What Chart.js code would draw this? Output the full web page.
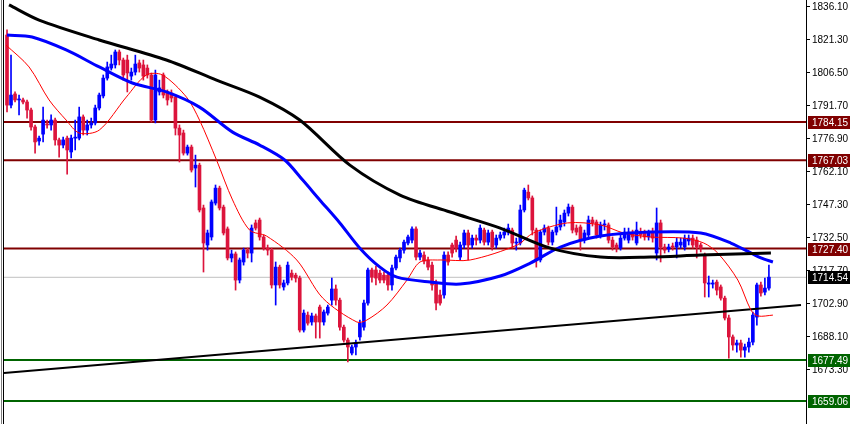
<!DOCTYPE html>
<html>
<head>
<meta charset="utf-8">
<script src="https://cdn.jsdelivr.net/npm/chart.js@4.4.0/dist/chart.umd.min.js"></script>
<style>
  html, body { margin: 0; padding: 0; background: #fff; }
  #wrap { width: 854px; height: 424px; position: relative; }
</style>
</head>
<body>
<div id="wrap"><canvas id="myChart"></canvas></div>
<script>
// candles (one per bar, left to right)
const opens = [1823.1,1791.7,1796.7,1794.0,1794.0,1793.1,1789.5,1781.9,1775.6,1778.7,1783.2,1782.8,1785.0,1776.1,1773.8,1776.9,1770.7,1776.9,1776.9,1786.4,
1780.5,1782.8,1783.7,1790.4,1795.8,1803.8,1808.3,1809.7,1815.5,1811.9,1811.9,1804.7,1806.5,1810.6,1809.7,1808.3,1805.2,1785.0,1797.6,1805.2,
1797.6,1797.1,1795.3,1781.4,1779.2,1770.2,1772.9,1763.5,1764.8,1745.6,1729.0,1732.6,1747.8,1754.5,1746.0,1736.2,1723.2,1725.0,1713.3,1721.4,
1726.7,1725.4,1738.9,1740.2,1732.6,1727.6,1726.7,1711.1,1719.1,1710.2,1712.0,1716.4,1715.5,1714.2,1690.9,1697.6,1694.5,1697.2,1701.2,1694.5,
1698.5,1704.3,1709.3,1704.3,1692.2,1686.4,1680.6,1683.3,1687.8,1692.2,1703.0,1717.8,1717.8,1716.4,1715.5,1715.5,1711.1,1718.7,1723.2,1726.7,
1729.9,1731.2,1736.2,1723.6,1724.5,1722.3,1720.0,1712.0,1706.6,1706.6,1724.5,1729.0,1731.2,1723.6,1729.0,1734.4,1729.0,1732.1,1731.2,1735.7,
1730.3,1734.8,1729.0,1732.1,1733.5,1734.8,1735.7,1729.9,1729.9,1744.7,1752.7,1750.1,1735.7,1722.3,1734.8,1736.6,1730.3,1734.8,1737.1,1739.3,
1743.3,1746.0,1736.6,1737.1,1731.2,1733.5,1740.2,1739.3,1733.5,1738.0,1738.0,1731.2,1729.0,1727.6,1732.1,1731.2,1734.8,1729.9,1734.8,1734.8,
1732.6,1734.8,1725.4,1738.9,1728.1,1727.2,1728.5,1728.1,1729.0,1728.1,1730.8,1732.1,1731.2,1729.0,1724.5,1711.5,1711.5,1712.4,1710.2,1705.2,
1696.3,1687.8,1684.2,1685.1,1681.9,1683.3,1685.5,1696.7,1711.1,1707.9,1709.7];
const closes = [1791.7,1796.2,1794.0,1794.0,1793.1,1789.5,1781.9,1775.2,1776.9,1785.0,1782.8,1785.0,1776.1,1773.8,1776.1,1771.6,1776.9,1776.9,1786.4,1780.5,
1782.8,1783.7,1790.4,1796.2,1803.8,1808.8,1810.1,1815.5,1811.9,1805.2,1806.1,1806.5,1810.1,1808.3,1804.7,1805.2,1785.0,1805.2,1799.4,1796.2,
1794.0,1794.9,1781.4,1778.3,1770.2,1772.9,1762.6,1764.8,1744.7,1729.9,1734.4,1748.3,1754.5,1745.6,1734.4,1723.2,1725.0,1713.3,1722.3,1726.7,
1725.4,1736.6,1736.6,1732.6,1727.6,1726.7,1711.1,1719.1,1711.1,1712.0,1720.0,1714.6,1714.2,1690.9,1698.5,1694.0,1697.2,1694.5,1694.5,1699.0,
1701.2,1709.3,1704.3,1692.2,1686.4,1683.3,1683.3,1685.1,1694.0,1703.0,1717.8,1714.6,1714.2,1713.3,1713.3,1711.1,1718.7,1723.6,1726.7,1730.3,
1732.6,1736.2,1723.6,1725.4,1721.8,1719.1,1711.1,1703.0,1703.0,1724.5,1721.4,1725.4,1727.6,1729.0,1734.4,1729.0,1732.1,1731.2,1736.6,1730.3,
1734.4,1728.1,1732.1,1733.5,1734.8,1736.6,1729.9,1730.2,1744.7,1753.6,1750.1,1735.7,1722.3,1734.8,1736.6,1730.3,1734.8,1737.1,1740.2,1743.3,
1746.0,1735.7,1734.8,1731.2,1734.4,1740.2,1738.9,1733.5,1738.0,1738.3,1731.2,1728.1,1727.6,1732.1,1734.8,1734.8,1732.6,1735.7,1733.5,1732.6,
1734.4,1732.1,1738.9,1728.1,1726.7,1728.1,1728.1,1730.3,1730.3,1732.1,1732.1,1729.0,1728.1,1727.6,1712.0,1712.0,1712.0,1708.8,1705.2,1696.3,
1687.8,1684.2,1685.1,1681.9,1683.3,1685.5,1697.6,1711.1,1707.5,1709.7,1714.6];
const highs = [1825.4,1814.1,1797.6,1796.2,1794.9,1794.0,1790.4,1782.8,1777.8,1790.8,1785.0,1787.3,1785.9,1776.9,1777.4,1777.8,1778.3,1785.0,1790.8,1787.3,
1785.0,1785.9,1791.7,1797.1,1805.2,1811.0,1814.1,1816.4,1816.4,1812.8,1814.1,1808.3,1814.1,1811.9,1811.9,1809.7,1806.1,1807.4,1802.9,1806.1,
1798.5,1798.5,1796.2,1782.8,1780.5,1773.8,1773.8,1769.3,1765.7,1746.9,1735.7,1749.2,1755.9,1755.4,1746.9,1737.1,1726.7,1725.9,1723.2,1727.6,
1727.6,1738.0,1740.2,1741.1,1733.5,1729.0,1727.6,1721.4,1720.0,1713.3,1721.4,1717.8,1716.4,1715.1,1699.9,1699.0,1698.5,1698.1,1702.1,1699.9,
1702.1,1714.2,1711.1,1705.2,1693.1,1687.3,1684.2,1686.4,1695.4,1704.3,1718.7,1718.7,1719.6,1717.8,1716.9,1716.9,1720.0,1724.5,1727.6,1731.2,
1733.5,1737.1,1737.1,1726.7,1725.9,1723.6,1721.4,1713.3,1708.8,1725.9,1725.9,1729.9,1733.0,1730.3,1735.7,1735.7,1733.5,1733.5,1738.0,1736.6,
1735.7,1735.7,1733.5,1734.8,1736.6,1738.4,1736.6,1732.1,1746.9,1754.5,1755.9,1751.0,1736.6,1735.7,1738.0,1737.5,1735.7,1746.0,1742.4,1744.7,
1747.4,1746.9,1738.0,1738.0,1735.7,1742.0,1741.5,1740.2,1739.3,1740.2,1738.9,1732.6,1729.9,1733.5,1736.6,1736.6,1735.7,1739.3,1736.6,1735.7,
1735.7,1736.6,1745.6,1740.2,1729.4,1729.4,1729.9,1732.1,1732.1,1733.5,1733.5,1733.5,1732.6,1729.9,1725.4,1715.1,1713.3,1713.3,1711.1,1706.1,
1697.6,1688.7,1686.4,1686.4,1684.6,1687.3,1699.0,1712.0,1712.4,1714.2,1720.0];
const lows = [1788.6,1790.4,1793.1,1787.3,1792.2,1785.9,1780.5,1770.2,1773.8,1775.2,1781.4,1780.5,1773.8,1768.4,1772.5,1760.8,1768.0,1771.6,1776.1,1778.3,
1778.3,1781.4,1782.8,1789.5,1794.9,1802.9,1807.4,1808.3,1809.7,1802.9,1797.6,1802.9,1805.2,1806.5,1802.9,1803.8,1784.1,1783.7,1796.2,1794.9,
1791.7,1793.1,1778.3,1766.2,1769.3,1769.3,1761.7,1755.0,1743.8,1716.9,1726.7,1731.2,1746.9,1744.7,1733.5,1722.3,1721.4,1708.8,1712.0,1720.0,
1723.2,1721.4,1735.7,1731.2,1726.7,1724.5,1709.7,1702.1,1709.7,1708.8,1711.1,1713.3,1712.4,1690.0,1690.0,1693.1,1693.1,1687.3,1687.3,1693.1,
1697.6,1702.1,1702.1,1690.9,1685.5,1676.6,1679.7,1679.7,1686.4,1690.9,1702.1,1712.4,1711.1,1712.0,1712.0,1708.8,1708.8,1717.8,1721.4,1725.4,
1729.0,1729.9,1722.3,1722.3,1720.5,1717.8,1708.8,1699.9,1702.1,1705.2,1720.0,1723.6,1725.9,1722.3,1727.6,1722.3,1727.6,1729.0,1729.9,1729.0,
1729.0,1726.7,1727.6,1731.2,1732.1,1733.5,1727.6,1726.7,1729.0,1743.8,1749.2,1733.5,1719.1,1721.4,1733.5,1729.0,1729.0,1733.5,1735.7,1737.5,
1742.0,1734.4,1733.5,1726.7,1729.9,1732.1,1737.5,1732.1,1732.1,1735.7,1729.9,1726.7,1725.9,1726.7,1731.2,1729.9,1731.2,1729.0,1732.1,1731.2,
1731.2,1730.3,1722.3,1721.4,1725.4,1725.9,1726.7,1723.2,1727.6,1726.7,1729.0,1727.6,1723.2,1725.9,1705.7,1705.7,1709.7,1706.6,1704.3,1695.4,
1678.3,1681.9,1681.0,1678.8,1678.8,1681.0,1684.2,1693.1,1706.1,1706.6,1708.8];

// moving averages, read at points along each curve (bar index, price)
const slowMaX = [0.5, 8, 23, 39.75, 52.25, 63, 73, 85.5, 98, 110.5, 123, 135.5, 148, 160.5, 173, 190.5];
const slowMaY = [1836.6, 1829.8, 1820.9, 1811.9, 1802.9, 1795.3, 1785.0, 1764.8, 1751.4, 1743.8, 1736.6, 1727.6, 1723.6, 1723.6, 1724.5, 1725.4];
const midMaX = [0, 6.25, 14.75, 23, 31.25, 39.75, 48, 56.25, 63, 69.25, 73.75, 78, 83, 88, 93, 97.25, 105.5, 113, 123, 130.5, 138, 148, 160.5, 173, 180.5, 188, 191];
const midMaY = [1823.1, 1822.2, 1816.4, 1808.8, 1801.6, 1797.6, 1790.8, 1779.6, 1773.8, 1767.1, 1758.1, 1749.2, 1738.9, 1727.6, 1719.1, 1714.6, 1712.4, 1711.5, 1715.1, 1720.9, 1728.1, 1733.0, 1734.8, 1734.4, 1729.9, 1723.2, 1721.4];
const fastMaX = [-0.25, 5.5, 10.5, 14.75, 18, 23, 29.75, 34.75, 38.75, 44.75, 48, 52.25, 56.25, 60.5, 64.75, 72.25, 78.75, 87.25, 89.75, 94.75, 99.75, 103, 108, 115.5, 127.25, 131.25, 139.75, 148, 153.75, 160.5, 168.75, 173.75, 177.25, 182.25, 185.5, 187.25, 191];
const fastMaY = [1818.6, 1808.8, 1794.0, 1785.0, 1779.2, 1780.5, 1795.3, 1805.2, 1805.2, 1795.3, 1785.0, 1767.1, 1749.2, 1735.7, 1733.0, 1722.3, 1705.2, 1694.5, 1695.4, 1702.1, 1713.3, 1721.4, 1722.3, 1722.3, 1729.0, 1734.4, 1738.9, 1738.0, 1734.4, 1732.6, 1732.1, 1729.9, 1725.4, 1713.3, 1699.9, 1697.2, 1697.6];

// trend line ends and levels
const trendX = [-0.75, 198];
const trendY = [1671.6, 1702.1];
const resistLevels = [1784.15, 1767.03, 1727.40];
const supportLevels = [1677.49, 1659.06];
const lastPrice = 1714.54;
const tickVals = [1836.10, 1821.30, 1806.50, 1791.70, 1776.90, 1762.10, 1747.30, 1732.50, 1717.70, 1702.90, 1688.10, 1673.30];

const X_MIN = -0.75, X_MAX = 199.25;
const BULL = '#0000ff', BEAR = '#dc143c';
const candleColor = ctx => {
  const i = ctx.dataIndex;
  return closes[i] >= opens[i] ? BULL : BEAR;
};

const wicks = opens.map((o, i) => ({ x: i, y: [lows[i], highs[i]] }));
const bodies = opens.map((o, i) => ({ x: i, y: [o, closes[i]] }));
const pts = (xs, ys) => xs.map((x, i) => ({ x: x, y: ys[i] }));
const hline = (v) => [{ x: X_MIN, y: v }, { x: X_MAX, y: v }];

const datasets = [
  { type: 'line', data: pts(slowMaX, slowMaY), borderColor: '#000', borderWidth: 3, pointRadius: 0, tension: 0.3, order: 0 },
  { type: 'line', data: pts(midMaX, midMaY), borderColor: '#0000ff', borderWidth: 3, pointRadius: 0, tension: 0.3, order: 0 },
  { type: 'line', data: pts(fastMaX, fastMaY), borderColor: '#ff0000', borderWidth: 1, pointRadius: 0, tension: 0.3, order: 0 },
  { type: 'line', data: pts(trendX, trendY), borderColor: '#000', borderWidth: 2, pointRadius: 0, order: 0 },
  { type: 'bar', data: bodies, backgroundColor: candleColor, barThickness: 3, minBarLength: 1, grouped: false, order: 1 },
  { type: 'bar', data: wicks, backgroundColor: candleColor, barThickness: 1, grouped: false, order: 2 },
  { type: 'line', data: hline(lastPrice), borderColor: '#c0c0c0', borderWidth: 1, pointRadius: 0, order: 3 }
];
resistLevels.forEach(v => datasets.push({ type: 'line', data: hline(v), borderColor: '#800000', borderWidth: 2, pointRadius: 0, order: 3 }));
supportLevels.forEach(v => datasets.push({ type: 'line', data: hline(v), borderColor: '#006400', borderWidth: 2, pointRadius: 0, order: 3 }));

// right axis: tick labels and price boxes
const axisPlugin = {
  id: 'axisTags',
  beforeDraw(chart) {
    const c = chart.ctx;
    c.save();
    c.fillStyle = '#fff';
    c.fillRect(0, 0, chart.width, chart.height);
    c.fillStyle = '#808080';
    c.fillRect(1, 0, 1, chart.height);
    c.fillStyle = '#000';
    c.fillRect(3, 0, 1, chart.height);
    c.restore();
  },
  afterDraw(chart) {
    const c = chart.ctx, ys = chart.scales.y, left = Math.round(chart.chartArea.right);
    c.save();
    c.fillStyle = '#000';
    c.fillRect(left, 0, 1, chart.height);
    c.font = '10px "Liberation Sans"';
    c.textBaseline = 'middle';
    tickVals.forEach(v => {
      const y = Math.round(ys.getPixelForValue(v));
      c.fillRect(left, y, 4, 1);
      c.fillText(v.toFixed(2), left + 6, y + 1);
    });
    const tags = resistLevels.map(v => [v, '#800000'])
      .concat(supportLevels.map(v => [v, '#006400']))
      .concat([[lastPrice, '#000']]);
    tags.forEach(t => {
      const y = Math.round(ys.getPixelForValue(t[0]));
      c.fillStyle = t[1];
      c.fillRect(left + 2, y - 6, 42, 13);
      c.fillStyle = '#fff';
      c.fillText(t[0].toFixed(2), left + 6, y + 1);
    });
    c.restore();
  }
};

new Chart(document.getElementById('myChart').getContext('2d'), {
  type: 'bar',
  data: { datasets: datasets },
  options: {
    responsive: true,
    maintainAspectRatio: false,
    animation: false,
    layout: { padding: { left: 4, top: 0, bottom: 0, right: 48 } },
    plugins: { legend: { display: false }, tooltip: { enabled: false } },
    scales: {
      x: { type: 'linear', min: X_MIN, max: X_MAX, offset: false, display: false },
      y: { min: 1648.8, max: 1838.8, display: false }
    }
  },
  plugins: [axisPlugin]
});
</script>
</body>
</html>
